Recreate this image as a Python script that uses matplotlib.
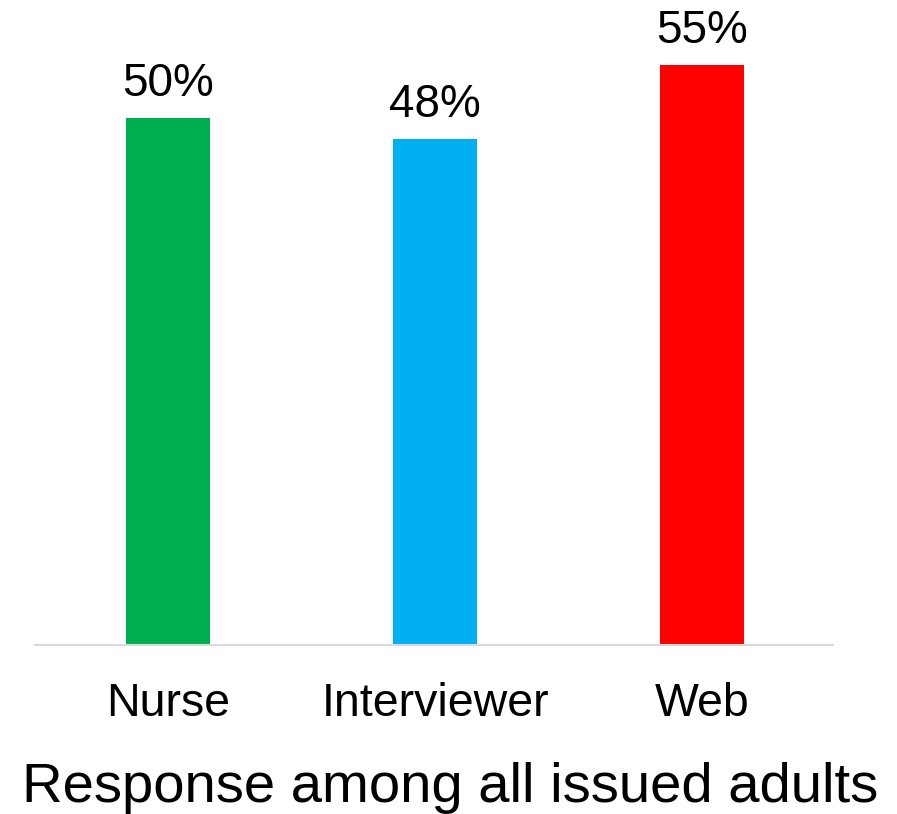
import matplotlib.pyplot as plt

plt.rcParams['font.family'] = ['Liberation Sans', 'DejaVu Sans']

modes = ['Nurse', 'Interviewer', 'Web']
response = [50, 48, 55]
colours = ['#00b050', '#00b0f0', '#ff0000']

fig = plt.figure(figsize=(8.97, 8.14), dpi=100)
ax = fig.add_axes([35/897, 1 - 645/814, 798/897, 633/814])

x = range(len(modes))
bars = ax.bar(x, response, width=0.315, color=colours)
for b, v in zip(bars, response):
    ax.text(b.get_x() + b.get_width()/2, v + 1.1, f'{v}%',
            ha='center', va='bottom', fontsize=33)

ax.set_xlim(-0.5, 2.49)
ax.set_ylim(0, 60)
ax.set_xticks(list(x))
ax.set_xticklabels(modes, fontsize=33.5)
ax.tick_params(axis='x', length=0, pad=27)
ax.set_yticks([])
for s in ['top', 'right', 'left']:
    ax.spines[s].set_visible(False)
ax.spines['bottom'].set_color('#d9d9d9')
ax.spines['bottom'].set_linewidth(1.5)

fig.text(450/897, 1 - 788/814, 'Response among all issued adults',
         ha='center', va='center', fontsize=40.5)

fig.savefig('out.png', dpi=100)
